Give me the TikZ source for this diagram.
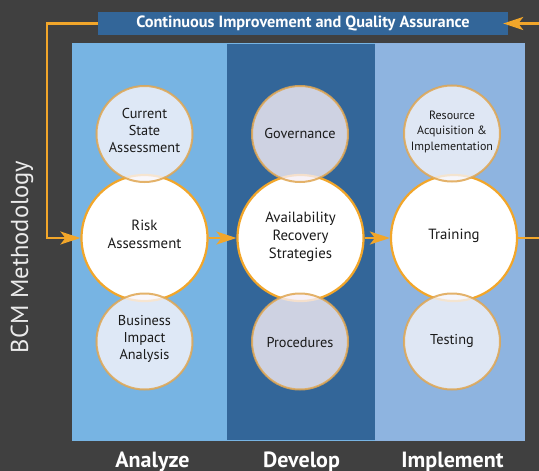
\documentclass[tikz,border=0pt]{standalone}
\usepackage{fontspec}
\setmainfont{PT Sans}
\usetikzlibrary{arrows.meta}

\definecolor{bgdark}{HTML}{404040}
\definecolor{colA}{HTML}{77B4E3}
\definecolor{colD}{HTML}{336699}
\definecolor{colI}{HTML}{8EB4E0}
\definecolor{barblue}{HTML}{336699}
\definecolor{flow}{HTML}{F2A62A}
\definecolor{ringtan}{HTML}{E0A651}
\definecolor{fillA}{RGB}{248,245,251}
\definecolor{fillD}{RGB}{245,238,245}
\definecolor{fillI}{RGB}{244,244,250}
\definecolor{inktext}{HTML}{1A1A1A}

\tikzset{
  bigring/.style={circle, draw=flow, line width=2.2pt, fill=white,
    minimum size=126pt, inner sep=0pt},
  smallring/.style={circle, draw=ringtan, draw opacity=0.85, line width=2pt,
    fill opacity=0.8, minimum size=96pt, inner sep=0pt},
  flowline/.style={draw=flow, line width=2.2pt},
  flowarrow/.style={flowline, -{Stealth[length=20pt,width=13pt,inset=5pt]}},
  lbl/.style={text=inktext, align=center, font=\fontsize{14.3}{17}\selectfont},
  biglbl/.style={lbl, font=\fontsize{14.8}{18}\selectfont},
  phase/.style={text=white, anchor=base, font=\bfseries\fontsize{22}{24}\selectfont},
}

\begin{document}
\begin{tikzpicture}[x=1pt, y=-1pt]
  \useasboundingbox (0,0) rectangle (539,471);
  \clip (0,0) rectangle (539,471);
  \fill[bgdark] (0,0) rectangle (539,471);

  % phase columns
  \fill[colA] (72,43) rectangle (525,441);
  \fill[colD] (227,44) rectangle (375,440);
  \fill[colI] (375,43) rectangle (525,441);

  % banner
  \node[fill=barblue, minimum width=410pt, minimum height=23pt, inner sep=0pt,
        text=white, font=\bfseries\fontsize{16.3}{18}\selectfont]
        (title) at (303,23.5) {Continuous Improvement and Quality Assurance};

  % main phase circles
  \node[bigring] (risk)  at (144.5,238) {};
  \node[bigring] (avail) at (300.5,238) {};
  \node[bigring] (train) at (454,238) {};

  % supporting circles
  \node[smallring, fill=fillA] (cur)  at (144.5,134) {};
  \node[smallring, fill=fillA] (bia)  at (144.5,341.5) {};
  \node[smallring, fill=fillD] (gov)  at (300,134) {};
  \node[smallring, fill=fillD] (proc) at (300,341.5) {};
  \node[smallring, fill=fillI] (res)  at (452,133.5) {};
  \node[smallring, fill=fillI] (test) at (452,341.5) {};

  % labels
  \node[lbl] at (144.5,130) {Current\\State\\Assessment};
  \node[lbl] at (144.5,339) {Business\\Impact\\Analysis};
  \node[lbl] at (300,133) {Governance};
  \node[lbl] at (300,343) {Procedures};
  \node[lbl, font=\fontsize{12}{15.5}\selectfont] at (452,131.5)
        {Resource\\Acquisition \&\\Implementation};
  \node[lbl] at (452,341) {Testing};
  \node[biglbl] at (144.5,234) {Risk\\Assessment};
  \node[biglbl] at (300.5,236.5) {Availability\\Recovery\\Strategies};
  \node[biglbl] at (454,236) {Training};

  % flow between phases
  \draw[flowarrow] (risk.east) -- (avail.west);
  \draw[flowarrow] (avail.east) -- (train.west);

  % feedback loop
  \coordinate (lcorner) at (47,23.5);
  \coordinate (rcorner) at (580,238);
  \draw[flowarrow] (title.west) -- (lcorner) |- (risk.west);
  \draw[flowarrow, shorten >=-5pt] (train.east) -- (rcorner) |- (title.east);

  % side caption
  \node[rotate=90, text=black!8, font=\fontsize{24.5}{26}\selectfont]
        (side) at (22,257) {BCM Methodology};

  % phase names
  \node[phase] (pa) at (152.5,467) {Analyze};
  \node[phase] (pd) at (301.5,467) {Develop};
  \node[phase] (pi) at (452.5,467) {Implement};
\end{tikzpicture}
\end{document}
